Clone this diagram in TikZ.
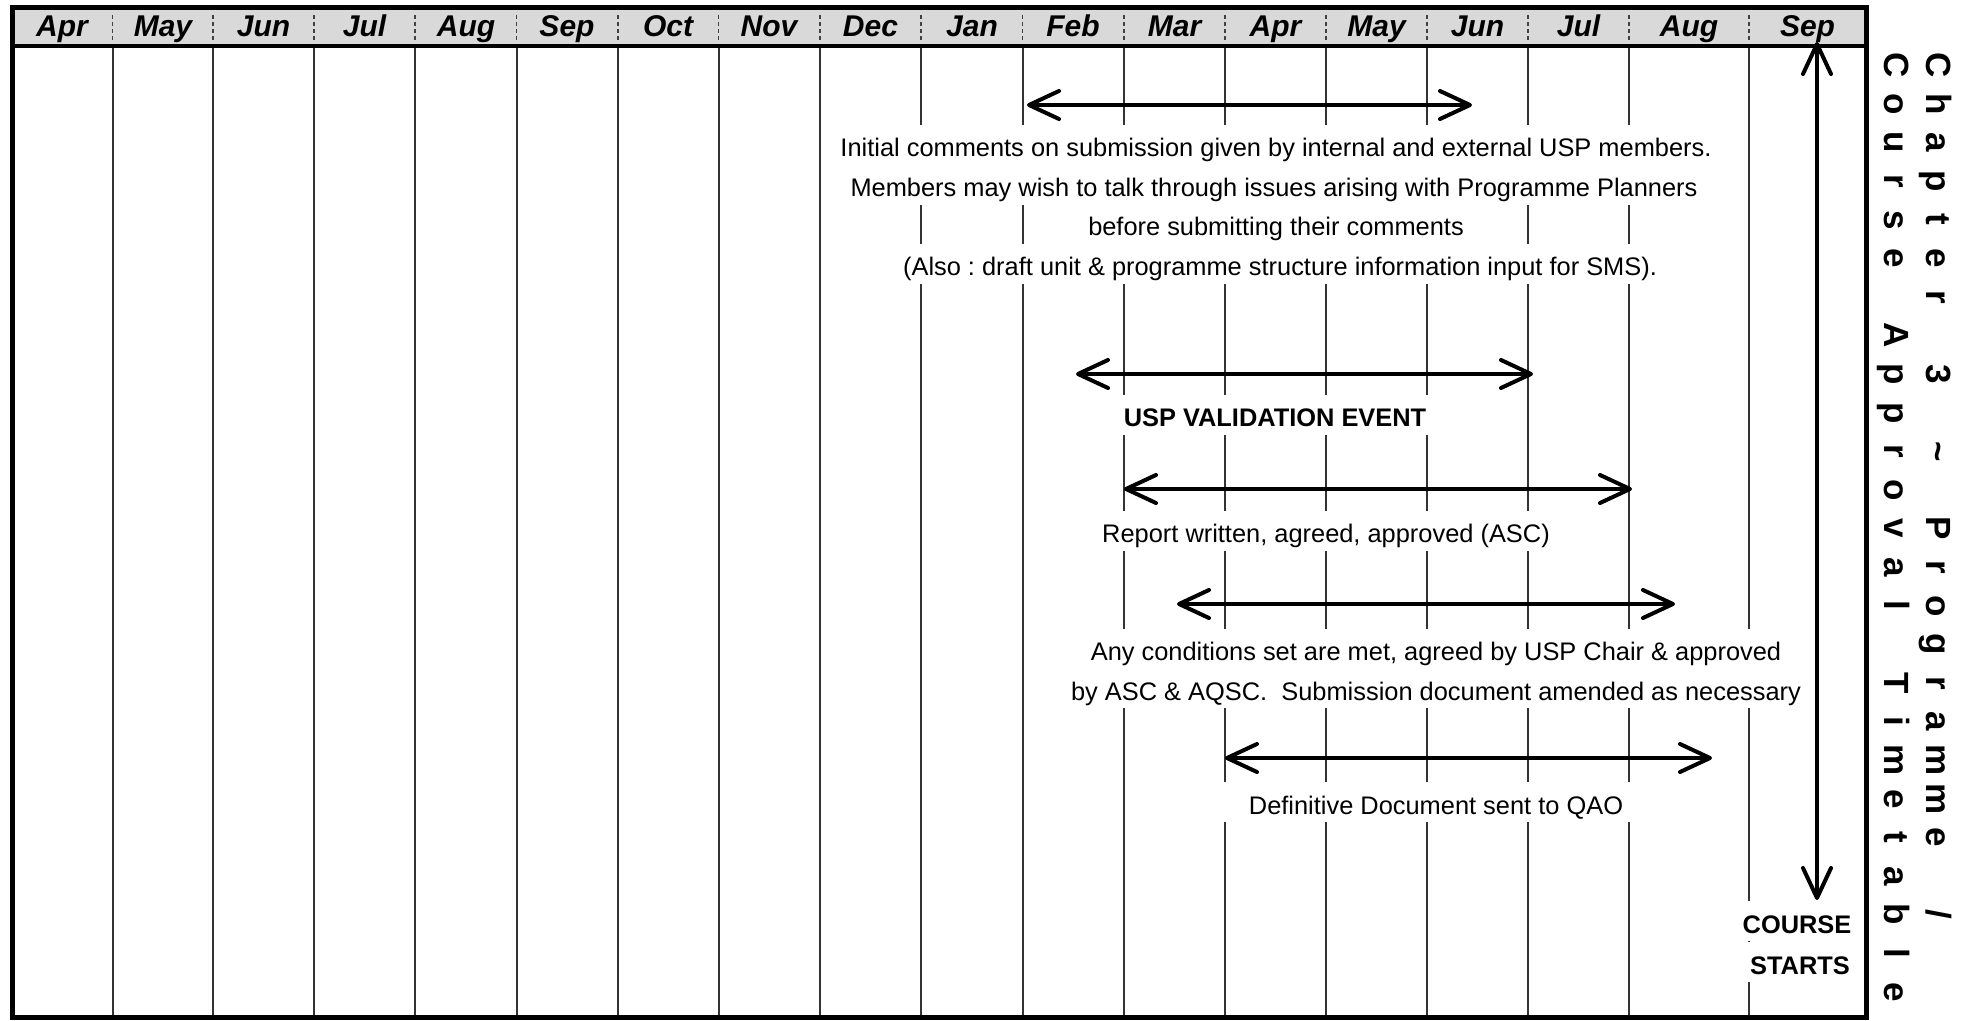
\documentclass[tikz,border=0pt]{standalone}
\usepackage{fontspec}
\setmainfont{Liberation Sans}
\usetikzlibrary{arrows.meta}
\frenchspacing
\newcommand\lsp[1]{\makebox[19.3pt]{#1}}
\begin{document}
\begin{tikzpicture}[x=0.5pt,y=-0.5pt,
  month/.style={font=\fontsize{15}{18}\selectfont\bfseries\itshape, anchor=base, inner sep=0pt},
  gridline/.style={line width=1pt, black!80},
  hdtick/.style={line width=0.7pt, dash pattern=on 2pt off 1.5pt, black!75},
  lbl/.style={font=\fontsize{12.7}{15}\selectfont, fill=white, anchor=base, inner xsep=8pt, inner ysep=0pt, text height=16pt, text depth=4pt},
  blbl/.style={lbl, font=\fontsize{12.7}{15}\selectfont\bfseries},
  cslbl/.style={lbl, font=\fontsize{12.7}{15}\selectfont\bfseries, inner xsep=1pt},
  span/.style={line width=2pt, line cap=round, {Straight Barb[length=15pt,width=14pt,line join=round,line cap=round]}-{Straight Barb[length=15pt,width=14pt,line join=round,line cap=round]}},
  titleline/.style={font=\fontsize{17.5}{20}\selectfont\bfseries, rotate=-90, anchor=base west, inner sep=0pt}
]
\useasboundingbox (0,0) rectangle (1966,1021);
\fill[white] (0,0) rectangle (1966,1021);
% header band
\fill[black!15] (12,8) rectangle (1866,46);
\foreach \x in {112.5,213,314,415,516.5,618,718.5,820,921,1022.5,1124,1225,1326,1427,1528,1629,1749}
  \draw[hdtick] (\x,15) -- (\x,40);
\foreach \x/\m [count=\i] in {62/Apr,163/May,263.5/Jun,364.5/Jul,466/Aug,567/Sep,668/Oct,769/Nov,870.5/Dec,972/Jan,1073/Feb,1174.5/Mar,1275.5/Apr,1376.5/May,1477.5/Jun,1578.5/Jul,1689/Aug,1807.5/Sep}
  \node[month] (mon\i) at (\x,37) {\m};
% grid lines
\foreach \x in {112.5,213,314,415,516.5,618,718.5,820,921,1022.5,1124,1225,1326,1427,1528,1629,1749}
  \draw[gridline] (\x,46) -- (\x,1017);
% texts
\node[lbl] (t1a) at (1276,157) {Initial comments on submission given by internal and external USP members.};
\node[lbl] (t1b) at (1274,197) {Members may wish to talk through issues arising with Programme Planners};
\node[lbl] (t1c) at (1276,236) {before submitting their comments};
\node[lbl] (t1d) at (1280,276) {(Also : draft unit \& programme structure information input for SMS).};
\node[blbl] (t2) at (1275,427) {USP VALIDATION EVENT};
\node[lbl] (t3) at (1326,543) {Report written, agreed, approved (ASC)};
\node[lbl] (t4a) at (1436,661) {Any conditions set are met, agreed by USP Chair \& approved};
\node[lbl] (t4b) at (1436,700) {by ASC \& AQSC.\ \ Submission document amended as necessary};
\node[lbl, inner xsep=14pt] (t5) at (1436,814) {Definitive Document sent to QAO};
\node[cslbl] (cs1) at (1797,933) {COURSE};
\node[cslbl] (cs2) at (1800,974) {STARTS};
% arrows
\coordinate (a1s) at (1027,105);  \coordinate (a1e) at (1472,105);
\coordinate (a2s) at (1076,374);  \coordinate (a2e) at (1533,374);
\coordinate (a3s) at (1124,489);  \coordinate (a3e) at (1632,489);
\coordinate (a4s) at (1177,604);  \coordinate (a4e) at (1675,604);
\coordinate (a5s) at (1225,758);  \coordinate (a5e) at (1712,758);
\coordinate (vs) at (1817,42);    \coordinate (ve) at (1817,900);
\draw[span] (a1s) -- (a1e);
\draw[span] (a2s) -- (a2e);
\draw[span] (a3s) -- (a3e);
\draw[span] (a4s) -- (a4e);
\draw[span] (a5s) -- (a5e);
% frame
\draw[line width=2.5pt] (12,8) rectangle (1866,1017);
\draw[line width=2.2pt] (12,46) -- (1866,46);
\draw[span] (vs) -- (ve);
% title
\node[titleline] (ttl1) at (1926,45.7) {\lsp{C}\lsp{h}\lsp{a}\lsp{p}\lsp{t}\lsp{e}\lsp{r}\lsp{}\lsp{3}\lsp{}\lsp{\textasciitilde}\lsp{}\lsp{P}\lsp{r}\lsp{o}\lsp{g}\lsp{r}\lsp{a}\lsp{m}\lsp{m}\lsp{e}\lsp{}\lsp{/}};
\node[titleline] (ttl2) at (1884,45.7) {\lsp{C}\lsp{o}\lsp{u}\lsp{r}\lsp{s}\lsp{e}\lsp{}\lsp{A}\lsp{p}\lsp{p}\lsp{r}\lsp{o}\lsp{v}\lsp{a}\lsp{l}\lsp{}\lsp{T}\lsp{i}\lsp{m}\lsp{e}\lsp{t}\lsp{a}\lsp{b}\lsp{l}\lsp{e}};
\end{tikzpicture}
\end{document}
